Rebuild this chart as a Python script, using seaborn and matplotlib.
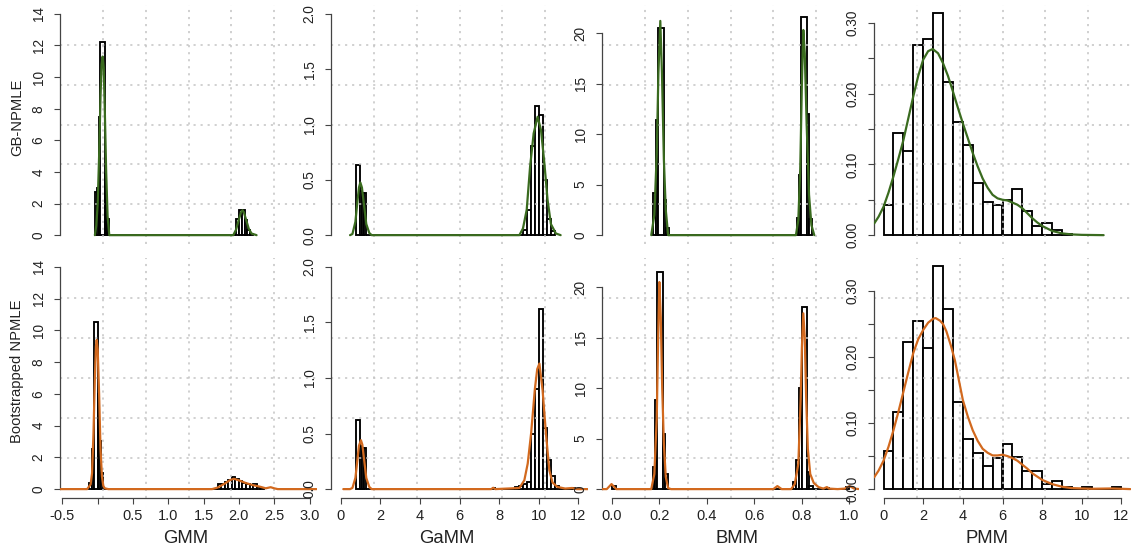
import matplotlib
matplotlib.use("Agg")
import matplotlib.pyplot as plt
import seaborn as sns

# ---- GMM ----
gmm_gb_edges = [-0.04, -0.01, 0.02, 0.035, 0.105, 0.12, 0.135, 0.15, 0.165,
                1.96, 2.00, 2.04, 2.08, 2.12, 2.16, 2.20]
gmm_gb_heights = [2.7, 3.0, 7.5, 12.2, 3.9, 1.7, 1.05, 1.05,
                  0.0, 1.05, 1.6, 1.6, 0.95, 0.3, 0.1]
gmm_gb_curve_x = [-0.04, -0.02, 0.0, 0.02, 0.04, 0.055, 0.07, 0.085, 0.10, 0.12, 0.14, 0.164,
                  1.92, 1.96, 2.0, 2.03, 2.05, 2.07, 2.1, 2.14, 2.18, 2.25]
gmm_gb_curve_y = [0.0, 0.6, 2.0, 5.0, 8.8, 10.8, 11.3, 10.6, 8.0, 4.0, 1.2, 0.0,
                  0.0, 0.35, 1.0, 1.45, 1.58, 1.45, 1.0, 0.4, 0.1, 0.0]

gmm_bs_edges = [-0.12, -0.08, -0.05, 0.0, 0.02, 0.04, 0.07,
                1.70, 1.75, 1.80, 1.85, 1.90, 1.95, 2.00, 2.05, 2.10, 2.15, 2.20, 2.25, 2.30, 2.35]
gmm_bs_heights = [0.4, 2.5, 10.5, 6.0, 3.0, 1.0, 0.0,
                  0.3, 0.35, 0.45, 0.6, 0.75, 0.65, 0.5, 0.4, 0.3, 0.25, 0.3, 0.15, 0.1]
gmm_bs_curve_x = [-0.53, -0.15, -0.1, -0.08, -0.06, -0.04, -0.025, -0.014, 0.0, 0.02, 0.04, 0.06, 0.08, 0.1, 0.15,
                  1.62, 1.7, 1.8, 1.88, 1.93, 2.0, 2.1, 2.2, 2.3, 2.38, 2.45, 2.5, 2.55, 3.1]
gmm_bs_curve_y = [0, 0, 0.3, 1.0, 3.5, 7.0, 9.0, 9.4, 8.8, 6.0, 2.5, 0.8, 0.2, 0.05, 0,
                  0, 0.1, 0.35, 0.58, 0.65, 0.55, 0.38, 0.25, 0.15, 0.05, 0.12, 0.05, 0, 0]

# ---- GaMM ----
gamm_gb_edges = [0.8, 1.0, 1.1, 1.2, 1.3, 9.2, 9.4, 9.6, 9.8, 10.0, 10.2, 10.4, 10.6, 10.8]
gamm_gb_heights = [0.63, 0.40, 0.38, 0.38, 0.0, 0.05, 0.23, 0.81, 1.17, 1.09, 0.5, 0.15, 0.04]
gamm_gb_curve_x = [0.48, 0.6, 0.75, 0.85, 0.93, 1.0, 1.08, 1.18, 1.3, 1.45, 1.57,
                   9.02, 9.2, 9.39, 9.56, 9.74, 9.94, 10.11, 10.28, 10.44, 10.61, 10.86, 11.1]
gamm_gb_curve_y = [0, 0.01, 0.12, 0.3, 0.43, 0.476, 0.43, 0.28, 0.1, 0.02, 0,
                   0, 0.06, 0.23, 0.62, 0.92, 1.07, 0.95, 0.65, 0.32, 0.1, 0.015, 0]

gamm_bs_edges = [0.8, 1.0, 1.1, 1.2, 1.3, 7.7, 7.8, 8.8, 9.0, 9.2, 9.4, 9.6, 9.8, 10.0,
                 10.2, 10.4, 10.6, 10.8, 11.0, 11.7, 11.8]
gamm_bs_heights = [0.62, 0.39, 0.37, 0.37, 0.0, 0.01, 0.0, 0.02, 0.03, 0.05, 0.06, 0.5, 0.9,
                   1.62, 0.55, 0.26, 0.12, 0.03, 0.0, 0.01]
gamm_bs_curve_x = [0.14, 0.48, 0.6, 0.75, 0.85, 0.93, 1.03, 1.1, 1.2, 1.3, 1.45, 1.57,
                   7.6, 7.7, 7.8,
                   9.02, 9.27, 9.44, 9.61, 9.8, 9.92, 10.03, 10.19, 10.36, 10.53, 10.69, 10.93,
                   11.33, 11.68, 11.9, 12.48]
gamm_bs_curve_y = [0, 0, 0.01, 0.1, 0.26, 0.39, 0.44, 0.4, 0.25, 0.1, 0.02, 0,
                   0, 0.012, 0,
                   0.01, 0.08, 0.23, 0.5, 0.9, 1.08, 1.13, 0.89, 0.5, 0.17, 0.06, 0.02,
                   0.005, 0.01, 0.0, 0]

# ---- BMM ----
bmm_gb_edges = [0.173, 0.187, 0.194, 0.219, 0.229, 0.24, 0.778, 0.789, 0.796, 0.82, 0.828, 0.843]
bmm_gb_heights = [4.2, 11.4, 20.5, 3.5, 0.7, 0.0, 1.65, 6.0, 21.55, 12.0, 1.55]
bmm_gb_curve_x = [0.167, 0.18, 0.19, 0.197, 0.205, 0.212, 0.22, 0.228, 0.238,
                  0.775, 0.785, 0.793, 0.8, 0.806, 0.812, 0.82, 0.83, 0.84, 0.852]
bmm_gb_curve_y = [0, 2.0, 8.0, 16.0, 21.2, 16.0, 7.5, 2.5, 0,
                  0, 1.5, 6.5, 15.0, 20.3, 18.0, 11.0, 4.0, 1.0, 0]

bmm_bs_edges = [0.0, 0.02, 0.173, 0.184, 0.193, 0.215, 0.224, 0.238, 0.761, 0.775, 0.789,
                0.8, 0.821, 0.831, 0.845, 0.9, 0.915, 0.985, 1.0]
bmm_bs_heights = [0.3, 0.0, 2.15, 8.8, 21.5, 5.5, 1.5, 0.0, 0.66, 2.9, 10.0, 18.0, 1.65, 0.3,
                  0.0, 0.15, 0.0, 0.25]
bmm_bs_curve_x = [-0.046, -0.02, 0.0, 0.02,
                  0.167, 0.18, 0.19, 0.196, 0.201, 0.207, 0.213, 0.22, 0.228, 0.238, 0.25,
                  0.68, 0.697, 0.715,
                  0.755, 0.77, 0.785, 0.795, 0.8, 0.806, 0.812, 0.818, 0.825, 0.835, 0.85,
                  0.87, 0.89, 0.905, 0.915, 0.95, 0.98, 1.0, 1.02, 1.042]
bmm_bs_curve_y = [0, 0, 0.5, 0,
                  0, 1.5, 7.0, 15.0, 20.5, 17.0, 10.0, 4.5, 1.2, 0.1, 0,
                  0, 0.3, 0,
                  0, 0.5, 2.5, 9.0, 14.0, 17.4, 15.0, 9.0, 4.0, 1.5, 0.6,
                  0.2, 0.05, 0.2, 0.05, 0.0, 0.05, 0.3, 0.05, 0]

# ---- PMM ----
pmm_gb_edges = [0.0, 0.5, 1.0, 1.5, 2.0, 2.5, 3.0, 3.5, 4.0, 4.5, 5.0, 5.5, 6.0, 6.5, 7.0,
                7.5, 8.0, 8.5, 9.0, 9.5]
pmm_gb_heights = [0.042, 0.144, 0.119, 0.269, 0.277, 0.314, 0.217, 0.160, 0.127, 0.073,
                  0.047, 0.042, 0.050, 0.065, 0.034, 0.013, 0.017, 0.007, 0.002]
pmm_gb_curve_x = [-0.47, -0.25, 0.0, 0.25, 0.5, 0.75, 1.0, 1.25, 1.5, 1.75, 2.0, 2.25, 2.48,
                  2.75, 3.0, 3.25, 3.5, 3.75, 4.0, 4.25, 4.5, 4.75, 5.0, 5.25, 5.5, 5.75,
                  6.0, 6.25, 6.5, 6.75, 7.0, 7.25, 7.5, 7.75, 8.0, 8.5, 9.0, 9.5, 10.0, 11.1]
pmm_gb_curve_y = [0.0165, 0.026, 0.040, 0.060, 0.083, 0.108, 0.134, 0.165, 0.196, 0.225,
                  0.248, 0.260, 0.263, 0.257, 0.243, 0.225, 0.203, 0.180, 0.158, 0.137,
                  0.116, 0.097, 0.080, 0.067, 0.057, 0.052, 0.050, 0.049, 0.046, 0.043,
                  0.038, 0.031, 0.024, 0.018, 0.013, 0.006, 0.0025, 0.001, 0.0004, 0.0]

pmm_bs_edges = [0.0, 0.5, 1.0, 1.5, 2.0, 2.5, 3.0, 3.5, 4.0, 4.5, 5.0, 5.5, 6.0, 6.5, 7.0,
                7.5, 8.0, 8.5, 9.0, 9.5, 10.0, 10.5, 11.0, 11.5, 12.0]
pmm_bs_heights = [0.057, 0.117, 0.223, 0.255, 0.213, 0.338, 0.273, 0.132, 0.076, 0.055,
                  0.035, 0.047, 0.069, 0.049, 0.028, 0.027, 0.008, 0.012, 0.003, 0.0,
                  0.0025, 0.0, 0.0, 0.003]
pmm_bs_curve_x = [-0.47, -0.25, 0.0, 0.25, 0.5, 0.75, 1.0, 1.25, 1.5, 1.75, 2.0, 2.25, 2.5,
                  2.63, 2.85, 3.0, 3.17, 3.4, 3.6, 3.8, 4.0, 4.25, 4.5, 4.75, 5.0, 5.25,
                  5.5, 5.75, 6.0, 6.25, 6.5, 6.75, 7.0, 7.25, 7.5, 7.75, 8.0, 8.5, 9.0,
                  9.5, 10.5, 11.5, 12.45]
pmm_bs_curve_y = [0.018, 0.028, 0.043, 0.064, 0.089, 0.117, 0.147, 0.177, 0.206, 0.227,
                  0.241, 0.252, 0.258, 0.259, 0.255, 0.250, 0.239, 0.217, 0.195, 0.165,
                  0.135, 0.110, 0.089, 0.073, 0.061, 0.055, 0.051, 0.051, 0.052, 0.050,
                  0.047, 0.043, 0.037, 0.031, 0.024, 0.019, 0.014, 0.0076, 0.0036, 0.0015,
                  0.0005, 0.001, 0.0]

row_labels = ["GB-NPMLE", "Bootstrapped NPMLE"]
col_names = ["GMM", "GaMM", "BMM", "PMM"]

x_ticks = [[-0.5, 0.0, 0.5, 1.0, 1.5, 2.0, 2.5, 3.0],
           [0, 2, 4, 6, 8, 10, 12],
           [0.0, 0.2, 0.4, 0.6, 0.8, 1.0],
           [0, 2, 4, 6, 8, 10, 12]]
x_tick_labels = [["-0.5", "", "0.5", "1.0", "1.5", "2.0", "2.5", "3.0"],
                 ["0", "2", "4", "6", "8", "10", "12"],
                 ["0.0", "0.2", "0.4", "0.6", "0.8", "1.0"],
                 ["0", "2", "4", "6", "8", "10", "12"]]
y_ticks = [[0, 2, 4, 6, 8, 10, 12, 14],
           [0.0, 0.5, 1.0, 1.5, 2.0],
           [0, 5, 10, 15, 20],
           [0.0, 0.05, 0.10, 0.15, 0.20, 0.25, 0.30]]
y_tick_labels = [["0", "2", "4", "6", "8", "10", "12", "14"],
                 ["0.0", "0.5", "1.0", "1.5", "2.0"],
                 ["0", "5", "10", "15", "20"],
                 ["0.00", "", "0.10", "", "0.20", "", "0.30"]]

panels = [
    [(gmm_gb_edges, gmm_gb_heights, gmm_gb_curve_x, gmm_gb_curve_y),
     (gamm_gb_edges, gamm_gb_heights, gamm_gb_curve_x, gamm_gb_curve_y),
     (bmm_gb_edges, bmm_gb_heights, bmm_gb_curve_x, bmm_gb_curve_y),
     (pmm_gb_edges, pmm_gb_heights, pmm_gb_curve_x, pmm_gb_curve_y)],
    [(gmm_bs_edges, gmm_bs_heights, gmm_bs_curve_x, gmm_bs_curve_y),
     (gamm_bs_edges, gamm_bs_heights, gamm_bs_curve_x, gamm_bs_curve_y),
     (bmm_bs_edges, bmm_bs_heights, bmm_bs_curve_x, bmm_bs_curve_y),
     (pmm_bs_edges, pmm_bs_heights, pmm_bs_curve_x, pmm_bs_curve_y)],
]

# layout (pixels of the 1137x556 canvas)
W, H = 1137, 556
col_left = [60, 331, 602, 874]
panel_w = 257
row_top = [5, 258]
row_h = [239, 240]
x_lims = [(-0.534, 3.106), (-0.48, 12.48), (-0.04, 1.04), (-0.48, 12.48)]
y_max = [[14, 2.0, 21.9, 0.3127], [14, 2.0, 22.0, 0.3365]]
xlabel_pos = [0.489, 0.451, 0.527, 0.439]
curve_colors = ["#3a6b1f", "#d2691e"]
axis_col = "#444444"
text_col = "#222222"

sns.set_style("white")
plt.rcParams["font.family"] = ["Liberation Sans", "DejaVu Sans"]

fig = plt.figure(figsize=(W / 100, H / 100), dpi=100)

for r in range(2):
    for c in range(4):
        edges, heights, cx, cy = panels[r][c]
        bottom = (H - row_top[r] - row_h[r]) / H
        ax = fig.add_axes([col_left[c] / W, bottom, panel_w / W, row_h[r] / H])
        ax.set_facecolor("none")

        centers = [(a + b) / 2 for a, b in zip(edges[:-1], edges[1:])]
        sns.histplot(x=centers, weights=heights, bins=edges, stat="count",
                     color="white", edgecolor="black", linewidth=1.35, alpha=1.0,
                     ax=ax, zorder=1)

        # dotted grid, 6 equal cells, drawn above the bars
        for k in range(1, 6):
            ax.plot([k / 6, k / 6], [0, 1], transform=ax.transAxes, color="#c4c4c4",
                    lw=1.1, ls=(0, (1.4, 3.2)), zorder=2)
            ax.plot([0, 1], [k / 6, k / 6], transform=ax.transAxes, color="#c4c4c4",
                    lw=1.1, ls=(0, (1.4, 3.2)), zorder=2)

        sns.lineplot(x=cx, y=cy, color=curve_colors[r], linewidth=1.6, ax=ax,
                     errorbar=None, zorder=4)

        M = y_max[r][c]
        ax.set_xlim(*x_lims[c])
        ax.set_ylim(-0.04 * M, 1.04 * M)

        for side in ["top", "right"]:
            ax.spines[side].set_visible(False)
        ax.spines["left"].set_color(axis_col)
        ax.spines["left"].set_linewidth(0.9)
        ax.spines["left"].set_bounds(y_ticks[c][0], y_ticks[c][-1])

        ax.set_yticks(y_ticks[c])
        ax.set_yticklabels(y_tick_labels[c])
        ax.tick_params(axis="y", left=True, direction="out", length=4.3, width=0.8,
                       color=axis_col, labelsize=9.8, labelcolor=text_col, pad=6.0,
                       labelrotation=90)
        for lbl in ax.get_yticklabels():
            lbl.set_va("center")

        if r == 1:
            ax.spines["bottom"].set_color(axis_col)
            ax.spines["bottom"].set_linewidth(0.9)
            ax.spines["bottom"].set_bounds(x_ticks[c][0], x_ticks[c][-1])
            ax.set_xticks(x_ticks[c])
            ax.set_xticklabels(x_tick_labels[c])
            ax.tick_params(axis="x", bottom=True, direction="out", length=4.3, width=0.8,
                           color=axis_col, labelsize=10.5, labelcolor=text_col, pad=3.5)
            ax.set_xlabel(col_names[c], fontsize=13.3, color=text_col, va="center")
            ax.xaxis.set_label_coords(xlabel_pos[c], -0.167)
        else:
            ax.spines["bottom"].set_visible(False)
            ax.tick_params(axis="x", bottom=False, labelbottom=False)
            ax.set_xlabel("")

        if c == 0:
            ax.set_ylabel(row_labels[r], fontsize=10.6, color=text_col, va="center")
            ax.yaxis.set_label_coords(-0.167, 0.53)
        else:
            ax.set_ylabel("")

fig.savefig("out.png", dpi=100)
